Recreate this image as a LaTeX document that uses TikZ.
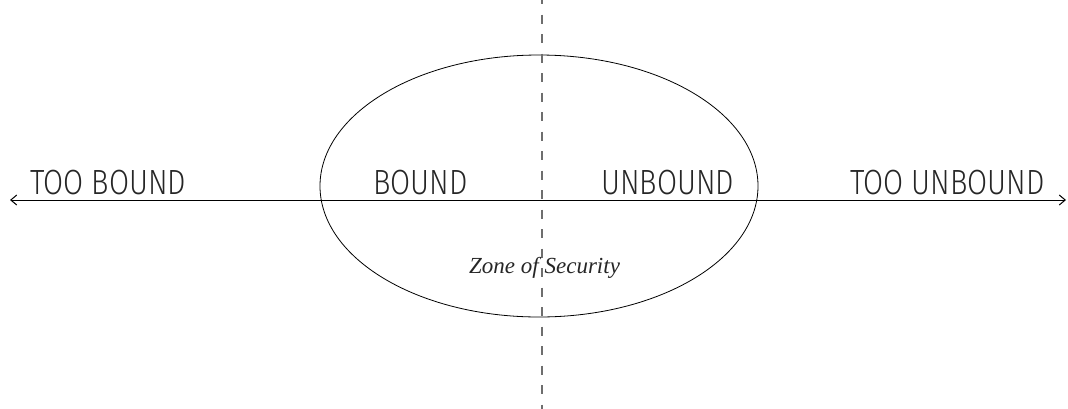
\documentclass[tikz,border=0pt]{standalone}
\usepackage{fontspec}
\setmainfont{Fira Sans}[UprightFont=* Light, FakeStretch=0.83]
\newfontfamily\zonefont{Liberation Serif}
\usetikzlibrary{arrows.meta}
\usetikzlibrary{shapes.geometric}
\definecolor{dashgray}{RGB}{110,110,110}

\begin{document}
\begin{tikzpicture}[x=1pt,y=-1pt,
  zonelabel/.style={font=\fontsize{35}{35}\selectfont, text=black!85, inner sep=0pt, anchor=base west},
  axisline/.style={line width=1pt, {Straight Barb[length=6pt,width=10pt]}-{Straight Barb[length=6pt,width=10pt]}}]
  \useasboundingbox (0,0) rectangle (1068,408);
  \def\ax{200}

  %Zone of security
  \node[ellipse, draw, line width=0.8pt, minimum width=438pt, minimum height=262pt, inner sep=0pt] (zone) at (539,186) {};

  %Dividing line
  \coordinate (divtop) at (542,-5);
  \coordinate (divbot) at (542,410);
  \draw[dashgray, line width=1.2pt, dash pattern=on 9pt off 10.5pt] (divtop) -- (divbot);

  %Axis
  \coordinate (leftend) at (10,\ax);
  \coordinate (rightend) at (1066,\ax);
  \draw[axisline] (leftend) -- (rightend);

  %Labels
  \node[zonelabel] (toobound) at (30,194) {TOO BOUND};
  \node[zonelabel] (bound) at (373,194) {BOUND};
  \node[zonelabel] (unbound) at (601,194) {UNBOUND};
  \node[zonelabel] (toounbound) at (850,194) {TOO UNBOUND};
  \node[inner sep=0pt, anchor=base west, font=\zonefont\itshape\fontsize{23}{23}\selectfont, text=black!85] (zonetext) at (469,273) {Zone of Security};
\end{tikzpicture}
\end{document}
